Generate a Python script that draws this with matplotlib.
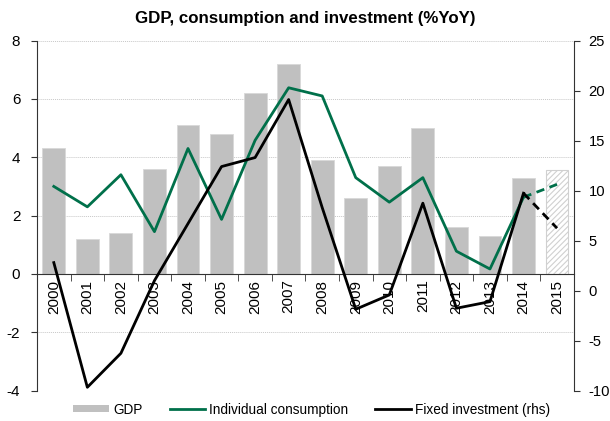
import matplotlib
matplotlib.use("Agg")
import matplotlib.pyplot as plt
import numpy as np
from matplotlib.patches import Patch
from matplotlib.lines import Line2D

plt.rcParams['font.family'] = ['Liberation Sans', 'DejaVu Sans']
plt.rcParams['axes.unicode_minus'] = False
plt.rcParams['hatch.color'] = '#D0D0D0'
plt.rcParams['hatch.linewidth'] = 0.8

years = ['2000', '2001', '2002', '2003', '2004', '2005', '2006', '2007',
         '2008', '2009', '2010', '2011', '2012', '2013', '2014', '2015']
gdp = [4.3, 1.2, 1.4, 3.6, 5.1, 4.8, 6.2, 7.2, 3.9, 2.6, 3.7, 5.0, 1.6, 1.3, 3.3, 3.55]
consumption = [3.0, 2.3, 3.4, 1.45, 4.3, 1.87, 4.58, 6.38, 6.1, 3.3, 2.46, 3.3, 0.78, 0.17, 2.63, 3.07]
investment = [2.8, -9.66, -6.26, 1.0, 6.7, 12.4, 13.3, 19.1, 8.3, -1.86, -0.43, 8.74, -1.76, -1.1, 9.74, 6.24]
forecast_start = 14  # index of last actual year (2014); 2015 is forecast

green = '#00704A'
bar_grey = '#C0C0C0'

fig = plt.figure(figsize=(6.10, 4.21), dpi=100)
ax = fig.add_axes([0.0607, 0.072, 0.880, 0.8318])
ax2 = ax.twinx()

x = np.arange(len(years))
ax.set_xlim(-0.5, len(years) - 0.5)
ax.set_ylim(-4, 8)
ax2.set_ylim(-10, 25)

# grid
for yv in [-4, -2, 2, 4, 6, 8]:
    ax.axhline(yv, color='#C8C8C8', lw=0.7, ls=(0, (1, 1)), zorder=0)

# bars
ax.bar(x[:forecast_start + 1], gdp[:forecast_start + 1], width=0.68,
       color=bar_grey, edgecolor='#D8D8D8', lw=0.6, zorder=1)
ax.bar(x[forecast_start + 1:], gdp[forecast_start + 1:], width=0.68,
       color='white', edgecolor='#D0D0D0', hatch='//////', lw=0.8, zorder=1)

# consumption line (left)
ax.plot(x[:forecast_start + 1], consumption[:forecast_start + 1], color=green, lw=2, zorder=3)
ax.plot(x[forecast_start:], consumption[forecast_start:], color=green, lw=2,
        ls=(0, (3, 2)), zorder=3)

# investment line (right)
ax2.plot(x[:forecast_start + 1], investment[:forecast_start + 1], color='black', lw=2, zorder=3)
ax2.plot(x[forecast_start:], investment[forecast_start:], color='black', lw=2,
         ls=(0, (3, 2)), zorder=3)

ax.set_zorder(ax2.get_zorder() - 1)
ax.patch.set_visible(False)
ax2.patch.set_visible(False)

# spines
for a in (ax, ax2):
    a.spines['top'].set_visible(False)
ax.spines['right'].set_visible(False)
ax2.spines['left'].set_visible(False)
ax2.spines['bottom'].set_visible(False)
ax.spines['bottom'].set_position(('data', 0))
for s in ['left', 'bottom']:
    ax.spines[s].set_color('#333333')
ax2.spines['right'].set_color('#333333')

ax.set_yticks([-4, -2, 0, 2, 4, 6, 8])
ax2.set_yticks([-10, -5, 0, 5, 10, 15, 20, 25])
ax.tick_params(axis='y', direction='out', length=4, labelsize=11, colors='#333333',
               labelcolor='black', pad=8)
ax2.tick_params(axis='y', direction='out', length=4, labelsize=10.6, colors='#333333',
                labelcolor='black', pad=6.5)

ax.set_xticks(x)
ax.set_xticklabels(years, rotation=90, fontsize=11)
ax.set_xticks(np.arange(-0.5, len(years), 1.0)[1:], minor=True)
ax.tick_params(axis='x', which='major', length=0, pad=4)
ax.tick_params(axis='x', which='minor', length=5, direction='out', colors='#333333')

fig.text(0.5, 0.955, 'GDP, consumption and investment (%YoY)', ha='center', va='center',
         fontsize=12.2, fontweight='bold')

handles = [Patch(facecolor=bar_grey, edgecolor='none'),
           Line2D([], [], color=green, lw=2),
           Line2D([], [], color='black', lw=2)]
labels = ['GDP', 'Individual consumption', 'Fixed investment (rhs)']
fig.legend(handles, labels, loc='center', bbox_to_anchor=(0.511, 0.027), ncol=3,
           frameon=False, fontsize=9.8, handlelength=2.6, handletextpad=0.3,
           columnspacing=2.0, handleheight=0.45)

fig.savefig('out.png', dpi=100)
